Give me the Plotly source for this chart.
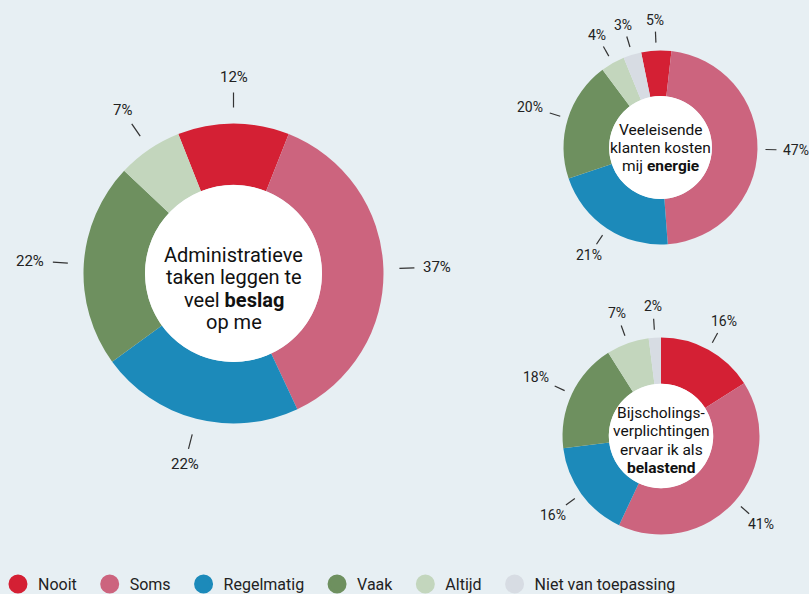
import math
import plotly.graph_objects as go

W, H = 809, 594

categories = ["Nooit", "Soms", "Regelmatig", "Vaak", "Altijd", "Niet van toepassing"]
colors = ["#d42034", "#cc647e", "#1c8aba", "#6e905f", "#c3d6bd", "#d7dce3"]

# chart 1: Administratieve taken
admin_cats = ["Nooit", "Soms", "Regelmatig", "Vaak", "Altijd"]
admin_vals = [12, 37, 22, 22, 7]
# chart 2: Veeleisende klanten
klant_cats = ["Nooit", "Soms", "Regelmatig", "Vaak", "Altijd", "Niet van toepassing"]
klant_vals = [5, 47, 21, 20, 4, 3]
# chart 3: Bijscholingsverplichtingen
bijs_cats = ["Nooit", "Soms", "Regelmatig", "Vaak", "Altijd", "Niet van toepassing"]
bijs_vals = [16, 41, 16, 18, 7, 2]

admin_title = ["Administratieve", "taken leggen te", "veel <b>beslag</b>", "op me"]
klant_title = ["Veeleisende", "klanten kosten", "mij <b>energie</b>"]
bijs_title = ["Bijscholings-", "verplichtingen", "ervaar ik als", "<b>belastend</b>"]

cmap = dict(zip(categories, colors))
BG = "#e7eff3"
FONT = "Roboto"

charts = [
    dict(cats=admin_cats, vals=admin_vals, title=admin_title, cx=233.5, cy=273.5, r=150,
         hole=0.59, rot=-21.6, t0=16, t1=31, gap=9, ts=20, toff=15, tsp=22.5, ls=15),
    dict(cats=klant_cats, vals=klant_vals, title=klant_title, cx=660.5, cy=147.5, r=97,
         hole=0.53, rot=-11.5, t0=8, t1=19, gap=6.5, ts=15.5, toff=0.5, tsp=18, ls=14),
    dict(cats=bijs_cats, vals=bijs_vals, title=bijs_title, cx=661, cy=436, r=98.5,
         hole=0.53, rot=0, t0=8, t1=19, gap=7, ts=15.5, toff=4.5, tsp=18.3, ls=14),
]

def px(x):
    return x / W

def py(y):
    return 1 - y / H

fig = go.Figure()
shapes = []
annotations = []

for c in charts:
    cx, cy, r = c["cx"], c["cy"], c["r"]
    fig.add_trace(go.Pie(
        labels=c["cats"], values=c["vals"], hole=c["hole"], sort=False,
        direction="clockwise", rotation=c["rot"],
        marker=dict(colors=[cmap[k] for k in c["cats"]], line=dict(width=0)),
        textinfo="none", hoverinfo="label+percent", showlegend=False,
        domain=dict(x=[px(cx - r), px(cx + r)], y=[py(cy + r), py(cy - r)]),
    ))
    hr = r * c["hole"]
    shapes.append(dict(type="circle", xref="paper", yref="paper",
                       x0=px(cx - hr), x1=px(cx + hr), y0=py(cy + hr), y1=py(cy - hr),
                       fillcolor="white", line=dict(width=0), layer="above"))
    n = len(c["title"])
    for i, line in enumerate(c["title"]):
        ly = cy + c["toff"] + (i - (n - 1) / 2) * c["tsp"]
        annotations.append(dict(text=line, x=px(cx), y=py(ly), xref="paper", yref="paper",
                                showarrow=False, font=dict(family=FONT, size=c["ts"], color="#111"),
                                xanchor="center", yanchor="middle"))
    total = sum(c["vals"])
    cum = 0
    for v in c["vals"]:
        a = math.radians(c["rot"] + 360 * (cum + v / 2) / total)
        cum += v
        s, co = math.sin(a), math.cos(a)
        r0, r1 = r + c["t0"], r + c["t1"]
        ex, ey = cx + r1 * s, cy - r1 * co
        shapes.append(dict(type="line", xref="paper", yref="paper",
                           x0=px(cx + r0 * s), y0=py(cy - r0 * co),
                           x1=px(ex), y1=py(ey),
                           line=dict(color="#333", width=1.2)))
        txt = f"{v}%"
        fs = c["ls"]
        hw = (0.56 * (len(txt) - 1) + 0.75) * fs / 2
        hh = 0.4 * fs
        ext = min(hw / max(abs(s), 1e-6), hh / max(abs(co), 1e-6))
        d = c["gap"] + ext
        lx, ly = ex + d * s, ey - d * co
        annotations.append(dict(text=txt, x=px(lx), y=py(ly),
                                xref="paper", yref="paper", showarrow=False,
                                xanchor="center", yanchor="middle",
                                font=dict(family=FONT, size=fs, color="#222")))

# legend entries
for cat, col in zip(categories, colors):
    fig.add_trace(go.Scatter(x=[None], y=[None], mode="markers", name=cat + "\u00a0\u00a0",
                             marker=dict(size=16, color=col, line=dict(color=col, width=3)),
                             showlegend=True, hoverinfo="skip"))

fig.update_layout(
    width=W, height=H,
    margin=dict(l=0, r=0, t=0, b=0, autoexpand=False),
    paper_bgcolor=BG, plot_bgcolor=BG,
    xaxis=dict(visible=False), yaxis=dict(visible=False),
    shapes=shapes, annotations=annotations,
    legend=dict(orientation="h", x=-0.0025, xanchor="left", y=-0.012, yanchor="bottom",
                font=dict(family=FONT, size=16, color="#222"),
                bgcolor="rgba(0,0,0,0)", itemclick=False, itemdoubleclick=False),
    font=dict(family=FONT),
)

fig.write_html("out.html", config={"displayModeBar": False},
               post_script="document.body.style.margin='0';document.body.style.padding='0';")
